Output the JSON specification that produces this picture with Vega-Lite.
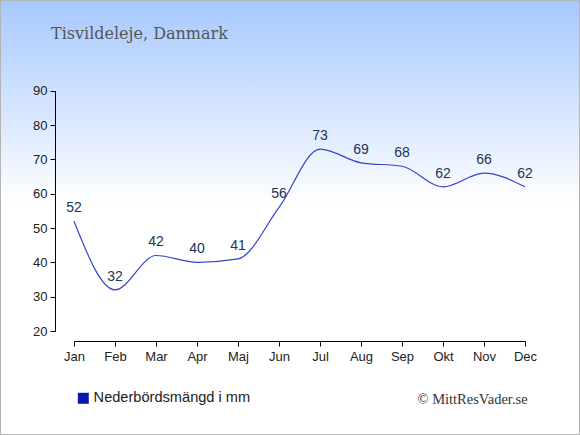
{
  "$schema": "https://vega.github.io/schema/vega-lite/v6.json",
  "width": 580,
  "height": 435,
  "autosize": "none",
  "padding": 0,
  "background": "#ffffff",
  "view": {
    "fill": {
      "gradient": "linear",
      "x1": 0, "y1": 0, "x2": 0, "y2": 1,
      "stops": [
        {"offset": 0, "color": "#a6c8fe"},
        {"offset": 0.47, "color": "#ffffff"},
        {"offset": 1, "color": "#ffffff"}
      ]
    },
    "stroke": "#b4b4b4",
    "strokeWidth": 2
  },
  "title": {
    "text": "Tisvildeleje, Danmark",
    "anchor": "start",
    "frame": "group",
    "orient": "top",
    "offset": -55,
    "baseline": "alphabetic",
    "dx": 51,
    "font": "DejaVu Serif",
    "fontSize": 16,
    "fontWeight": "normal",
    "color": "#555555"
  },
  "config": {
    "axis": {
      "labelFont": "Liberation Sans",
      "labelFontSize": 13,
      "labelColor": "#222222",
      "domainColor": "#000000",
      "tickColor": "#000000",
      "tickSize": 5,
      "grid": false
    }
  },
  "data": {
    "values": [
      {"month": "Jan", "mm": 52},
      {"month": "Feb", "mm": 32},
      {"month": "Mar", "mm": 42},
      {"month": "Apr", "mm": 40},
      {"month": "Maj", "mm": 41},
      {"month": "Jun", "mm": 56},
      {"month": "Jul", "mm": 73},
      {"month": "Aug", "mm": 69},
      {"month": "Sep", "mm": 68},
      {"month": "Okt", "mm": 62},
      {"month": "Nov", "mm": 66},
      {"month": "Dec", "mm": 62}
    ]
  },
  "encoding": {
    "x": {
      "field": "month",
      "type": "ordinal",
      "sort": null,
      "scale": {"type": "point", "range": [74, 525], "padding": 0},
      "axis": {
        "orient": "bottom",
        "offset": -94,
        "labelAngle": 0,
        "labelPadding": 4,
        "title": "© MittResVader.se",
        "titleFont": "Liberation Serif",
        "titleFontSize": 14.5,
        "titleFontWeight": "normal",
        "titleColor": "#333333",
        "titleAnchor": "start",
        "titleAlign": "left",
        "titleBaseline": "alphabetic",
        "titleX": 417,
        "titleY": 62
      }
    },
    "y": {
      "field": "mm",
      "type": "quantitative",
      "scale": {"domain": [20, 90], "range": [331, 90.7], "nice": false, "zero": false},
      "axis": {
        "orient": "left",
        "offset": -55,
        "values": [20, 30, 40, 50, 60, 70, 80, 90],
        "labelPadding": 3,
        "title": null
      }
    }
  },
  "layer": [
    {
      "mark": {"type": "line", "interpolate": "monotone", "strokeWidth": 1.2},
      "encoding": {
        "color": {
          "datum": "Nederbördsmängd i mm",
          "scale": {"range": ["#3344cc"]},
          "legend": {
            "title": null,
            "orient": "none",
            "legendX": 76,
            "legendY": 391,
            "symbolType": "square",
            "symbolSize": 121,
            "labelFont": "Liberation Sans",
            "labelFontSize": 14.6,
            "labelColor": "#222222",
            "labelOffset": 3,
            "encode": {
              "symbols": {
                "update": {
                  "fill": {"value": "#0a1aa8"},
                  "stroke": {"value": "#0a1aa8"},
                  "strokeWidth": {"value": 0}
                }
              }
            }
          }
        }
      }
    },
    {
      "mark": {
        "type": "text",
        "dy": -13,
        "font": "Liberation Sans",
        "fontSize": 14,
        "color": "#223355"
      },
      "encoding": {
        "text": {"field": "mm", "type": "quantitative"}
      }
    }
  ]
}
